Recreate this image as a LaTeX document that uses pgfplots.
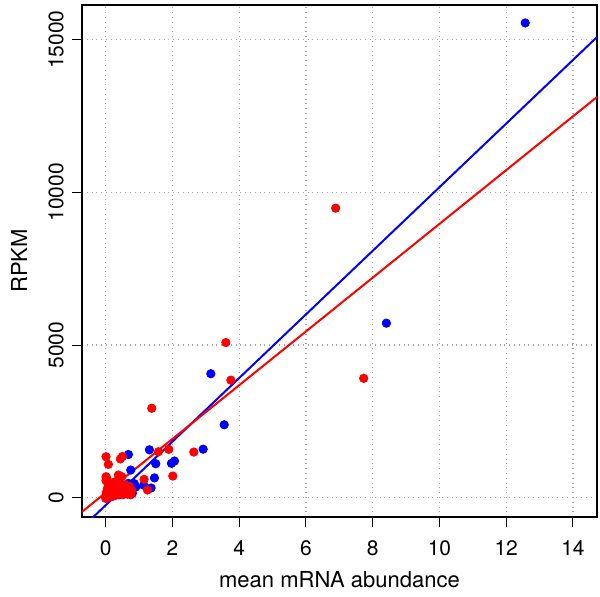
\documentclass[border=0pt]{standalone}
\usepackage{fontspec}
\setmainfont{TeX Gyre Heros}
\usepackage{pgfplots}
\pgfplotsset{compat=1.18}
\begin{document}
\begin{tikzpicture}
\begin{axis}[
  scale only axis,
  width=257.5pt, height=256pt,
  xmin=-0.71, xmax=14.72, ymin=-630, ymax=16130,
  xtick={0,2,...,14}, ytick={0,5000,10000,15000},
  scaled y ticks=false,
  /pgf/number format/1000 sep={},
  /pgf/number format/assume math mode=true,
  tick pos=left, tick align=outside, major tick length=5pt,
  tick style={black, line width=0.5pt},
  axis line style={black, line width=0.6pt},
  grid=major, major grid style={dotted, gray!70, line width=0.6pt},
  ticklabel style={font=\fontsize{10.5}{12}\selectfont},
  xticklabel style={anchor=center, yshift=-10.5pt},
  yticklabel style={rotate=90, anchor=center, yshift=8pt},
  xlabel={mean mRNA abundance}, ylabel={RPKM},
  label style={font=\fontsize{11}{13}\selectfont},
  xlabel style={at={(axis description cs:0.5,-0.123)}, anchor=center},
  ylabel style={at={(axis description cs:-0.1223,0.5)}, anchor=center},
]
\coordinate (ll) at (rel axis cs:0,0);
\coordinate (ur) at (rel axis cs:1,1);
% blue points
\addplot[only marks, mark=*, mark size=2.1pt, color=blue] coordinates {
(12.57,15543) (8.41,5715) (3.15,4060) (3.55,2390) (2.92,1590) (1.31,1570)
(1.97,1126) (2.06,1202) (1.50,1113) (1.46,650) (1.36,320) (1.14,410)
(0.68,1415) (0.75,907) (0.86,460) (0.68,471) (0.76,196) (0.80,150)
(0.60,300) (0.50,200) (0.40,100) (0.30,150) (0.20,50) (0.10,80)
(0.55,380) (0.65,120) (0.90,350) (0.35,420) (0.45,280)
};
% red points
\addplot[only marks, mark=*, mark size=2.1pt, color=red] coordinates {
(6.89,9480) (3.60,5080) (7.73,3910) (3.75,3850) (1.38,2930) (1.58,1506)
(1.89,1585) (2.64,1496) (2.01,711) (1.15,602) (1.25,255)
(0.01,1343) (0.08,1093) (0.50,1350) (0.44,1270) (0.01,688) (0.38,743) (0.48,688)
(0.00,50) (0.02,120) (0.03,200) (0.05,30) (0.05,300) (0.07,150) (0.08,420)
(0.10,80) (0.10,250) (0.12,350) (0.13,180) (0.15,40) (0.15,480) (0.17,280)
(0.18,120) (0.20,200) (0.22,380) (0.23,60) (0.25,300) (0.27,150) (0.28,520)
(0.30,230) (0.32,90) (0.33,400) (0.35,170) (0.37,320) (0.40,120) (0.42,250)
(0.45,450) (0.47,180) (0.50,330) (0.52,100) (0.55,260) (0.58,420) (0.60,190)
(0.63,300) (0.65,140) (0.68,230) (0.70,380) (0.72,170) (0.75,100) (0.78,250)
(0.01,560) (0.03,640) (0.00,-20) (0.04,10)
};
% regression lines
\addplot[blue, line width=1pt] coordinates {(-0.71,-983) (14.72,15080)};
\addplot[red, line width=1pt] coordinates {(-0.71,-460) (14.72,13119)};
\end{axis}
\pgfresetboundingbox
\path ([shift={(-41pt,-39.5pt)}]ll) rectangle ([shift={(1.5pt,2.5pt)}]ur);
\end{tikzpicture}
\end{document}
